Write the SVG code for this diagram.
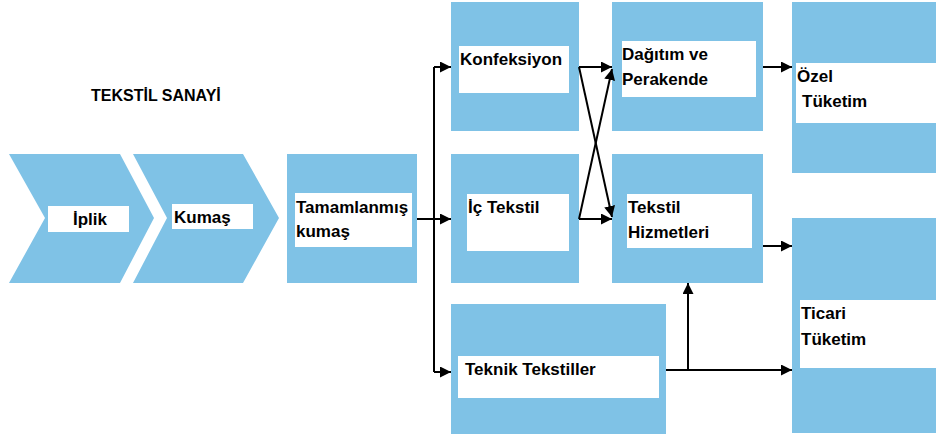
<svg xmlns="http://www.w3.org/2000/svg" width="936" height="438" viewBox="0 0 936 438">
  <defs>
    <marker id="arrow" viewBox="0 0 10 10" refX="10" refY="5" markerWidth="5.5" markerHeight="5.5" orient="auto" markerUnits="strokeWidth">
      <path d="M0,0 L10,5 L0,10 Z" fill="#000"/>
    </marker>
  </defs>
  <style>
    .shape { fill: #7fc2e6; }
    .label { fill: #ffffff; }
    text { font-family: "Liberation Sans", Arial, sans-serif; font-weight: bold; font-size: 17px; fill: #000; }
    .title { font-size: 16px; }
    .conn { fill: none; stroke: #000; stroke-width: 2; }
    .arr { marker-end: url(#arrow); }
  </style>

  <rect width="936" height="438" fill="#ffffff"/>

  <text class="title" x="91" y="101">TEKSTİL SANAYİ</text>

  <!-- chevron stages -->
  <g id="iplik">
    <polygon class="shape" points="9,154 120,154 154,218 120,283 9,283 45,218"/>
    <rect class="label" x="48" y="206" width="81" height="26"/>
    <text x="73" y="225">İplik</text>
  </g>
  <g id="kumas">
    <polygon class="shape" points="133,154 243,154 279,218 243,283 133,283 167,218"/>
    <rect class="label" x="172" y="204" width="81" height="25"/>
    <text x="174" y="223">Kumaş</text>
  </g>

  <g id="tamamlanmis">
    <rect class="shape" x="287" y="154" width="130" height="129"/>
    <rect class="label" x="295" y="193" width="117" height="54"/>
    <text x="296" y="213">Tamamlanmış</text>
    <text x="296" y="237">kumaş</text>
  </g>

  <g id="konfeksiyon">
    <rect class="shape" x="451" y="2" width="128" height="129"/>
    <rect class="label" x="459" y="46" width="110" height="47"/>
    <text x="460" y="65">Konfeksiyon</text>
  </g>

  <g id="ic-tekstil">
    <rect class="shape" x="451" y="154" width="128" height="129"/>
    <rect class="label" x="467" y="194" width="102" height="57"/>
    <text x="468" y="213">İç Tekstil</text>
  </g>

  <g id="teknik-tekstiller">
    <rect class="shape" x="451" y="304" width="215" height="130"/>
    <rect class="label" x="458" y="356" width="201" height="42"/>
    <text x="465" y="375">Teknik Tekstiller</text>
  </g>

  <g id="dagitim">
    <rect class="shape" x="612" y="2" width="151" height="129"/>
    <rect class="label" x="622" y="41" width="134" height="56"/>
    <text x="622" y="60">Dağıtım ve</text>
    <text x="622" y="85">Perakende</text>
  </g>

  <g id="tekstil-hizmetleri">
    <rect class="shape" x="612" y="154" width="151" height="129"/>
    <rect class="label" x="627" y="194" width="125" height="54"/>
    <text x="628" y="213">Tekstil</text>
    <text x="628" y="238">Hizmetleri</text>
  </g>

  <g id="ozel-tuketim">
    <rect class="shape" x="792" y="2" width="144" height="171"/>
    <rect class="label" x="796" y="63" width="140" height="60"/>
    <text x="797" y="82">Özel</text>
    <text x="802" y="107">Tüketim</text>
  </g>

  <g id="ticari-tuketim">
    <rect class="shape" x="792" y="218" width="144" height="215"/>
    <rect class="label" x="800" y="300" width="136" height="68"/>
    <text x="801" y="319">Ticari</text>
    <text x="801" y="345">Tüketim</text>
  </g>

  <!-- connectors -->
  <g id="connectors">
    <path class="conn" d="M434,372 V67"/>
    <path class="conn arr" d="M434,67 H451"/>
    <path class="conn arr" d="M417,219 H451"/>
    <path class="conn arr" d="M434,372 H451"/>

    <path class="conn arr" d="M579,67 H612"/>
    <path class="conn arr" d="M579,219 H612"/>
    <path class="conn arr" d="M579,67 L612,217"/>
    <path class="conn arr" d="M579,219 L612,69"/>

    <path class="conn arr" d="M763,67 H792"/>
    <path class="conn arr" d="M763,246 H792"/>

    <path class="conn arr" d="M666,370 H792"/>
    <path class="conn arr" d="M688,370 V283"/>
  </g>
</svg>
